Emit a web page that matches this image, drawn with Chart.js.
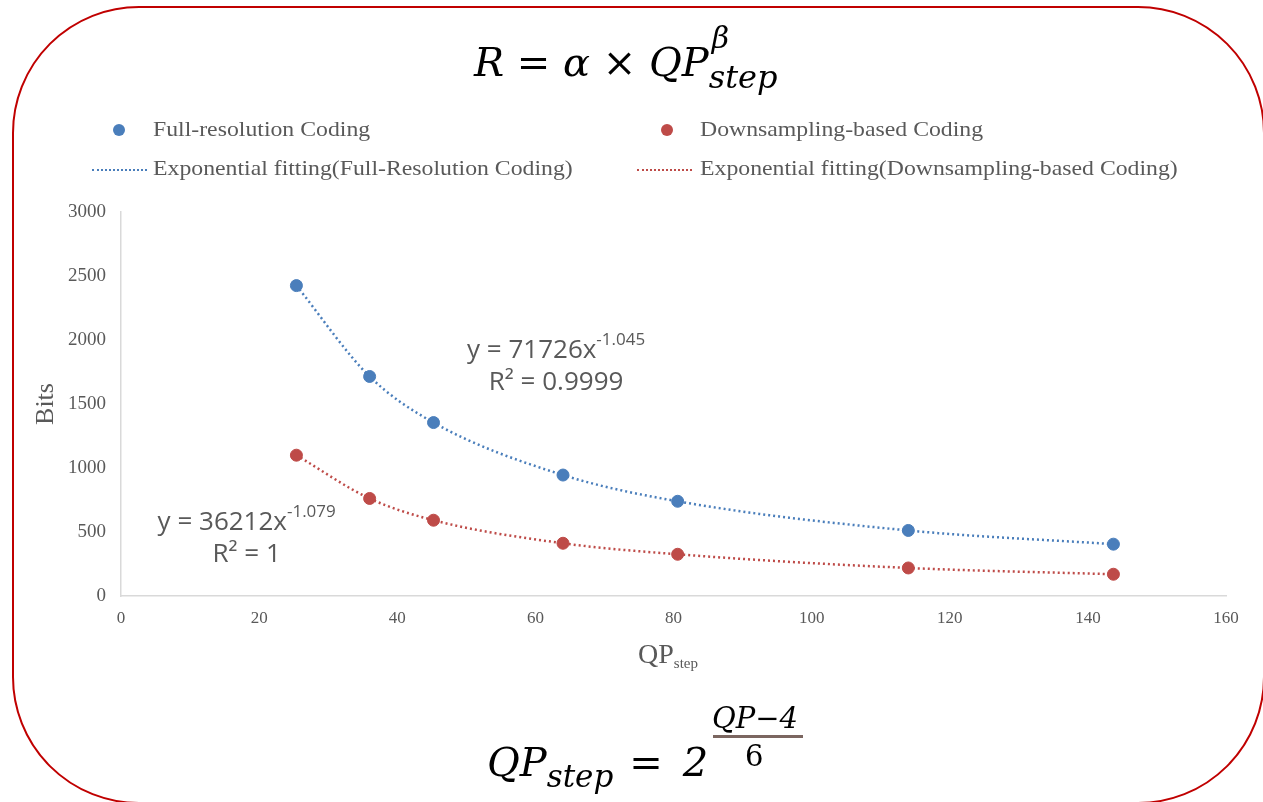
<!DOCTYPE html>
<html>
<head>
<meta charset="utf-8">
<script src="https://cdn.jsdelivr.net/npm/chart.js@4"></script>
<style>
  html, body { margin: 0; padding: 0; background: #fff; }
  #page { position: relative; width: 1263px; height: 802px; overflow: hidden; }
  #frame { position: absolute; left: 12px; top: 6px; width: 1253px; height: 798px;
           border: 2px solid #c00000; border-radius: 127px; box-sizing: border-box; }
  #chart { position: absolute; left: 0; top: 0; }
  .math { position: absolute; font-family: "DejaVu Serif", serif; font-style: italic; color: #000; white-space: nowrap; line-height: 1; }
  .legend { position: absolute; font-family: "Liberation Serif", serif; font-size: 22px; color: #595959; white-space: nowrap;
            transform: scaleX(1.08); transform-origin: left center; }
  .dot { position: absolute; width: 12px; height: 12px; border-radius: 50%; }
  .dash { position: absolute; width: 55px; height: 0; border-top: 2.5px dotted; }
  #xtitle { position: absolute; left: 638px; top: 638px; font-family: "Liberation Serif", serif; font-size: 28px; color: #595959; }
  #xtitle sub { font-size: 15px; vertical-align: -5px; }
</style>
</head>
<body>
<div id="page">
  <div id="frame"></div>
  <canvas id="chart" width="1263" height="802"></canvas>

  <div class="math" style="left:474px; top:42px; font-size:40px;">R = α × QP<span style="position:relative;"><span style="position:absolute; left:3px; top:-16px; font-size:30px;">β</span><span style="font-size:32px; position:relative; top:12px;">step</span></span></div>

  <div class="math" style="left:487px; top:742px; font-size:40px;">QP<span style="font-size:31px; position:relative; top:11px;">step</span><span style="margin-left:16px;">=</span><span style="margin-left:20px;">2</span></div>
  <div class="math" style="left:712px; top:704px; font-size:29px;">QP−4</div>
  <div style="position:absolute; left:713px; top:735px; width:90px; height:3px; background:#7b6660;"></div>
  <div class="math" style="left:745px; top:742px; font-size:29px; font-style:normal;">6</div>

  <div class="dot" style="left:113px; top:124px; background:#4a7ebb;"></div>
  <div class="legend" style="left:153px; top:116px;">Full-resolution Coding</div>
  <div class="dot" style="left:661px; top:124px; background:#be4b48;"></div>
  <div class="legend" style="left:700px; top:116px;">Downsampling-based Coding</div>
  <div class="dash" style="left:92px; top:169px; border-color:#4a7ebb;"></div>
  <div class="legend" style="left:153px; top:155px;">Exponential fitting(Full-Resolution Coding)</div>
  <div class="dash" style="left:637px; top:169px; border-color:#be4b48;"></div>
  <div class="legend" style="left:700px; top:155px;">Exponential fitting(Downsampling-based Coding)</div>

  <div id="xtitle">QP<sub>step</sub></div>
</div>

<script>
// QP_step values on the x axis
const qpStep = [25.4, 36, 45.25, 64, 80.6, 114, 143.7];
// bits per coding mode
const fullBits = [2425, 1715, 1355, 945, 740, 512, 405];
const downBits = [1100, 762, 592, 412, 326, 219, 170];
// fit equations shown on the plot
const fullFit = { eq: 'y = 71726x', exp: '-1.045', r2: 'R² = 0.9999', x: 63, y: 1860 };
const downFit = { eq: 'y = 36212x', exp: '-1.079', r2: 'R² = 1', x: 18.2, y: 516 };

const blue = '#4a7ebb';
const red = '#be4b48';

const toPoints = (ys) => qpStep.map((x, i) => ({ x: x, y: ys[i] }));

const fitLabelPlugin = {
    id: 'fitLabels',
    afterDatasetsDraw(chart) {
        const ctx = chart.ctx;
        const xs = chart.scales.x, ys = chart.scales.y;
        const big = '26px "Open Sans", sans-serif';
        const small = '17px "Open Sans", sans-serif';
        ctx.save();
        ctx.fillStyle = '#595959';
        ctx.textBaseline = 'alphabetic';
        for (const f of [fullFit, downFit]) {
            const cx = xs.getPixelForValue(f.x);
            const cy = ys.getPixelForValue(f.y);
            ctx.font = big;
            const w1 = ctx.measureText(f.eq).width;
            ctx.font = small;
            const w2 = ctx.measureText(f.exp).width;
            const left = cx - (w1 + w2) / 2;
            ctx.textAlign = 'left';
            ctx.font = big;
            ctx.fillText(f.eq, left, cy);
            ctx.font = small;
            ctx.fillText(f.exp, left + w1, cy - 13);
            ctx.font = big;
            ctx.textAlign = 'center';
            ctx.fillText(f.r2, cx, cy + 32);
        }
        ctx.restore();
    }
};

new Chart(document.getElementById('chart'), {
    type: 'scatter',
    data: {
        datasets: [{
            label: 'Exponential fitting(Full-Resolution Coding)',
            data: toPoints(fullBits),
            showLine: true,
            borderColor: blue,
            borderWidth: 2.5,
            borderDash: [2, 3],
            cubicInterpolationMode: 'monotone',
            pointRadius: 0,
            order: 2
        }, {
            label: 'Exponential fitting(Downsampling-based Coding)',
            data: toPoints(downBits),
            showLine: true,
            borderColor: red,
            borderWidth: 2.5,
            borderDash: [2, 3],
            cubicInterpolationMode: 'monotone',
            pointRadius: 0,
            order: 2
        }, {
            label: 'Full-resolution Coding',
            data: toPoints(fullBits),
            backgroundColor: blue,
            borderColor: blue,
            pointRadius: 6,
            order: 1
        }, {
            label: 'Downsampling-based Coding',
            data: toPoints(downBits),
            backgroundColor: red,
            borderColor: red,
            pointRadius: 6,
            order: 1
        }]
    },
    options: {
        responsive: false,
        animation: false,
        layout: { padding: { left: 31, top: 212, right: 37, bottom: 166 } },
        plugins: {
            legend: { display: false },
            tooltip: { enabled: false }
        },
        scales: {
            x: {
                type: 'linear',
                min: 0,
                max: 160,
                ticks: { stepSize: 20, padding: 12, color: '#595959', font: { family: 'Liberation Serif', size: 17 },
                         callback: (v) => String(v) },
                grid: { display: false, drawTicks: false },
                border: { display: true, color: '#d9d9d9', width: 1.5 },
                afterFit: (scale) => { scale.height = 40; }
            },
            y: {
                min: 0,
                max: 3000,
                ticks: { stepSize: 500, padding: 15, color: '#595959', font: { family: 'Liberation Serif', size: 19 },
                         callback: (v) => String(v) },
                grid: { display: false, drawTicks: false },
                border: { display: true, color: '#d9d9d9', width: 1.5 },
                title: { display: true, text: 'Bits', color: '#595959', font: { family: 'Liberation Serif', size: 26 }, padding: { top: 0, bottom: 0 } },
                afterFit: (scale) => { scale.width = 90; }
            }
        }
    },
    plugins: [fitLabelPlugin]
});
</script>
</body>
</html>
